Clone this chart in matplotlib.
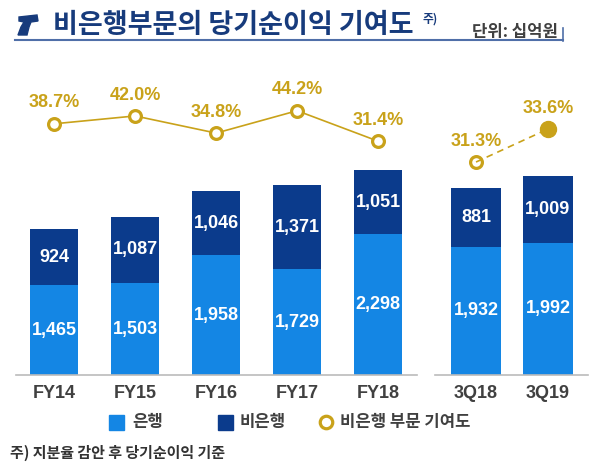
import matplotlib
matplotlib.use('Agg')
import matplotlib.pyplot as plt
from matplotlib.patches import Rectangle, Polygon
from matplotlib.lines import Line2D

plt.rcParams['font.family'] = ['Liberation Sans', 'Noto Sans CJK KR', 'DejaVu Sans']

# 데이터 (단위: 십억원)
fy_labels = ['FY14', 'FY15', 'FY16', 'FY17', 'FY18']
fy_bank = [1465, 1503, 1958, 1729, 2298]
fy_nonbank = [924, 1087, 1046, 1371, 1051]
fy_pct = [38.7, 42.0, 34.8, 44.2, 31.4]

q_labels = ['3Q18', '3Q19']
q_bank = [1932, 1992]
q_nonbank = [881, 1009]
q_pct = [31.3, 33.6]

# 색상
c_bank = '#1486E4'
c_nonbank = '#0B3B8C'
c_gold = '#C9A21A'
c_navy = '#173B7C'
c_text = '#404040'

W, H = 600, 470
def fx(x):
    return x / W
def fy(y):
    return 1 - y / H

fig = plt.figure(figsize=(6, 4.7), dpi=100)

bottom, top = fy(375), fy(60)
ax1 = fig.add_axes([fx(16), bottom, fx(417) - fx(16), top - bottom])
ax2 = fig.add_axes([fx(435), bottom, fx(588) - fx(435), top - bottom])


def draw_bars(ax, labels, bank, nonbank, width, ymax, xlim):
    x = list(range(len(labels)))
    ax.bar(x, bank, width=width, color=c_bank, zorder=2)
    ax.bar(x, nonbank, width=width, bottom=bank, color=c_nonbank, zorder=2)
    for i in x:
        ax.text(i, bank[i] / 2, f'{bank[i]:,}', ha='center', va='center',
                color='white', fontsize=13, weight='bold', zorder=3)
        ax.text(i, bank[i] + nonbank[i] / 2, f'{nonbank[i]:,}', ha='center', va='center',
                color='white', fontsize=13, weight='bold', zorder=3)
    ax.set_xlim(*xlim)
    ax.set_ylim(0, ymax)
    ax.set_xticks(x)
    ax.set_xticklabels(labels, fontsize=13, weight='bold', color=c_text)
    ax.tick_params(axis='x', length=0, pad=7)
    ax.set_yticks([])
    for s in ['top', 'left', 'right']:
        ax.spines[s].set_visible(False)
    ax.spines['bottom'].set_color('#BBBBBB')
    ax.spines['bottom'].set_linewidth(1.2)
    ax.set_facecolor('none')


draw_bars(ax1, fy_labels, fy_bank, fy_nonbank, 0.6, 5150, (-0.47, 4.48))
draw_bars(ax2, q_labels, q_bank, q_nonbank, 0.69, 4750, (-0.57, 1.556))

# 비은행 부문 기여도 (꺾은선)
t1 = ax1.twinx()
t1.plot(range(len(fy_pct)), fy_pct, color=c_gold, lw=1.2, marker='o', ms=8.5,
        mfc='white', mec=c_gold, mew=2.3, zorder=4)
t1.set_ylim(-66.8, 65.5)

t2 = ax2.twinx()
t2.plot(range(len(q_pct)), q_pct, color=c_gold, lw=1.2, ls=(0, (4, 3)), zorder=4)
t2.plot([0], [q_pct[0]], marker='o', ms=8.5, mfc='white', mec=c_gold, mew=2.3, ls='none')
t2.plot([1], [q_pct[1]], marker='o', ms=11.5, mfc=c_gold, mec=c_gold, mew=1, ls='none')
t2.set_ylim(16.46, 38.41)

for t, vals in [(t1, fy_pct), (t2, q_pct)]:
    for i, v in enumerate(vals):
        t.annotate(f'{v:.1f}%', (i, v), xytext=(0, 15), textcoords='offset points',
                   ha='center', va='center', color=c_gold, fontsize=13, weight='bold')
    t.set_yticks([])
    for s in t.spines.values():
        s.set_visible(False)
    t.tick_params(length=0)

# 제목
logo = Polygon([(fx(19), fy(17)), (fx(37), fy(15)), (fx(38), fy(21)), (fx(31), fy(22)),
                (fx(29), fy(27)), (fx(27), fy(35)), (fx(18), fy(35)), (fx(21), fy(27)),
                (fx(24), fy(22)), (fx(19), fy(21))],
               closed=True, color=c_navy, transform=fig.transFigure)
fig.patches.append(logo)
fig.text(fx(53), fy(25), '비은행부문의 당기순이익 기여도', fontsize=19.5, weight='bold',
         color=c_navy, ha='left', va='center', family='Noto Sans CJK KR')
fig.text(fx(423), fy(19), '주)', fontsize=8.5, weight='bold', color=c_navy,
         ha='left', va='center', family='Noto Sans CJK KR')
fig.text(fx(472), fy(32), '단위: 십억원', fontsize=12, weight='bold', color=c_text,
         ha='left', va='center', family='Noto Sans CJK KR')
fig.lines.append(Line2D([fx(15), fx(563)], [fy(40), fy(40)], color='#4F6FA8', lw=1.5,
                        transform=fig.transFigure))
fig.lines.append(Line2D([fx(563), fx(563)], [fy(28), fy(41)], color='#4F6FA8', lw=1.2,
                        transform=fig.transFigure))

# 범례
fig.patches.append(Rectangle((fx(109), fy(430)), fx(15), 15 / H, color=c_bank,
                             transform=fig.transFigure))
fig.text(fx(132), fy(422), '은행', fontsize=12, weight='bold', color=c_text,
         va='center', family='Noto Sans CJK KR')
fig.patches.append(Rectangle((fx(218), fy(430)), fx(15), 15 / H, color=c_nonbank,
                             transform=fig.transFigure))
fig.text(fx(240), fy(422), '비은행', fontsize=12, weight='bold', color=c_text,
         va='center', family='Noto Sans CJK KR')
fig.lines.append(Line2D([fx(326)], [fy(422)], marker='o', ms=9, mfc='white', mec=c_gold,
                        mew=2.3, transform=fig.transFigure))
fig.text(fx(340), fy(422), '비은행 부문 기여도', fontsize=12, weight='bold', color=c_text,
         va='center', family='Noto Sans CJK KR')

# 주석
fig.text(fx(10), fy(453), '주) 지분율 감안 후 당기순이익 기준', fontsize=10.8, weight='bold',
         color='#333333', va='center', family='Noto Sans CJK KR')

fig.savefig('out.png', dpi=100)
